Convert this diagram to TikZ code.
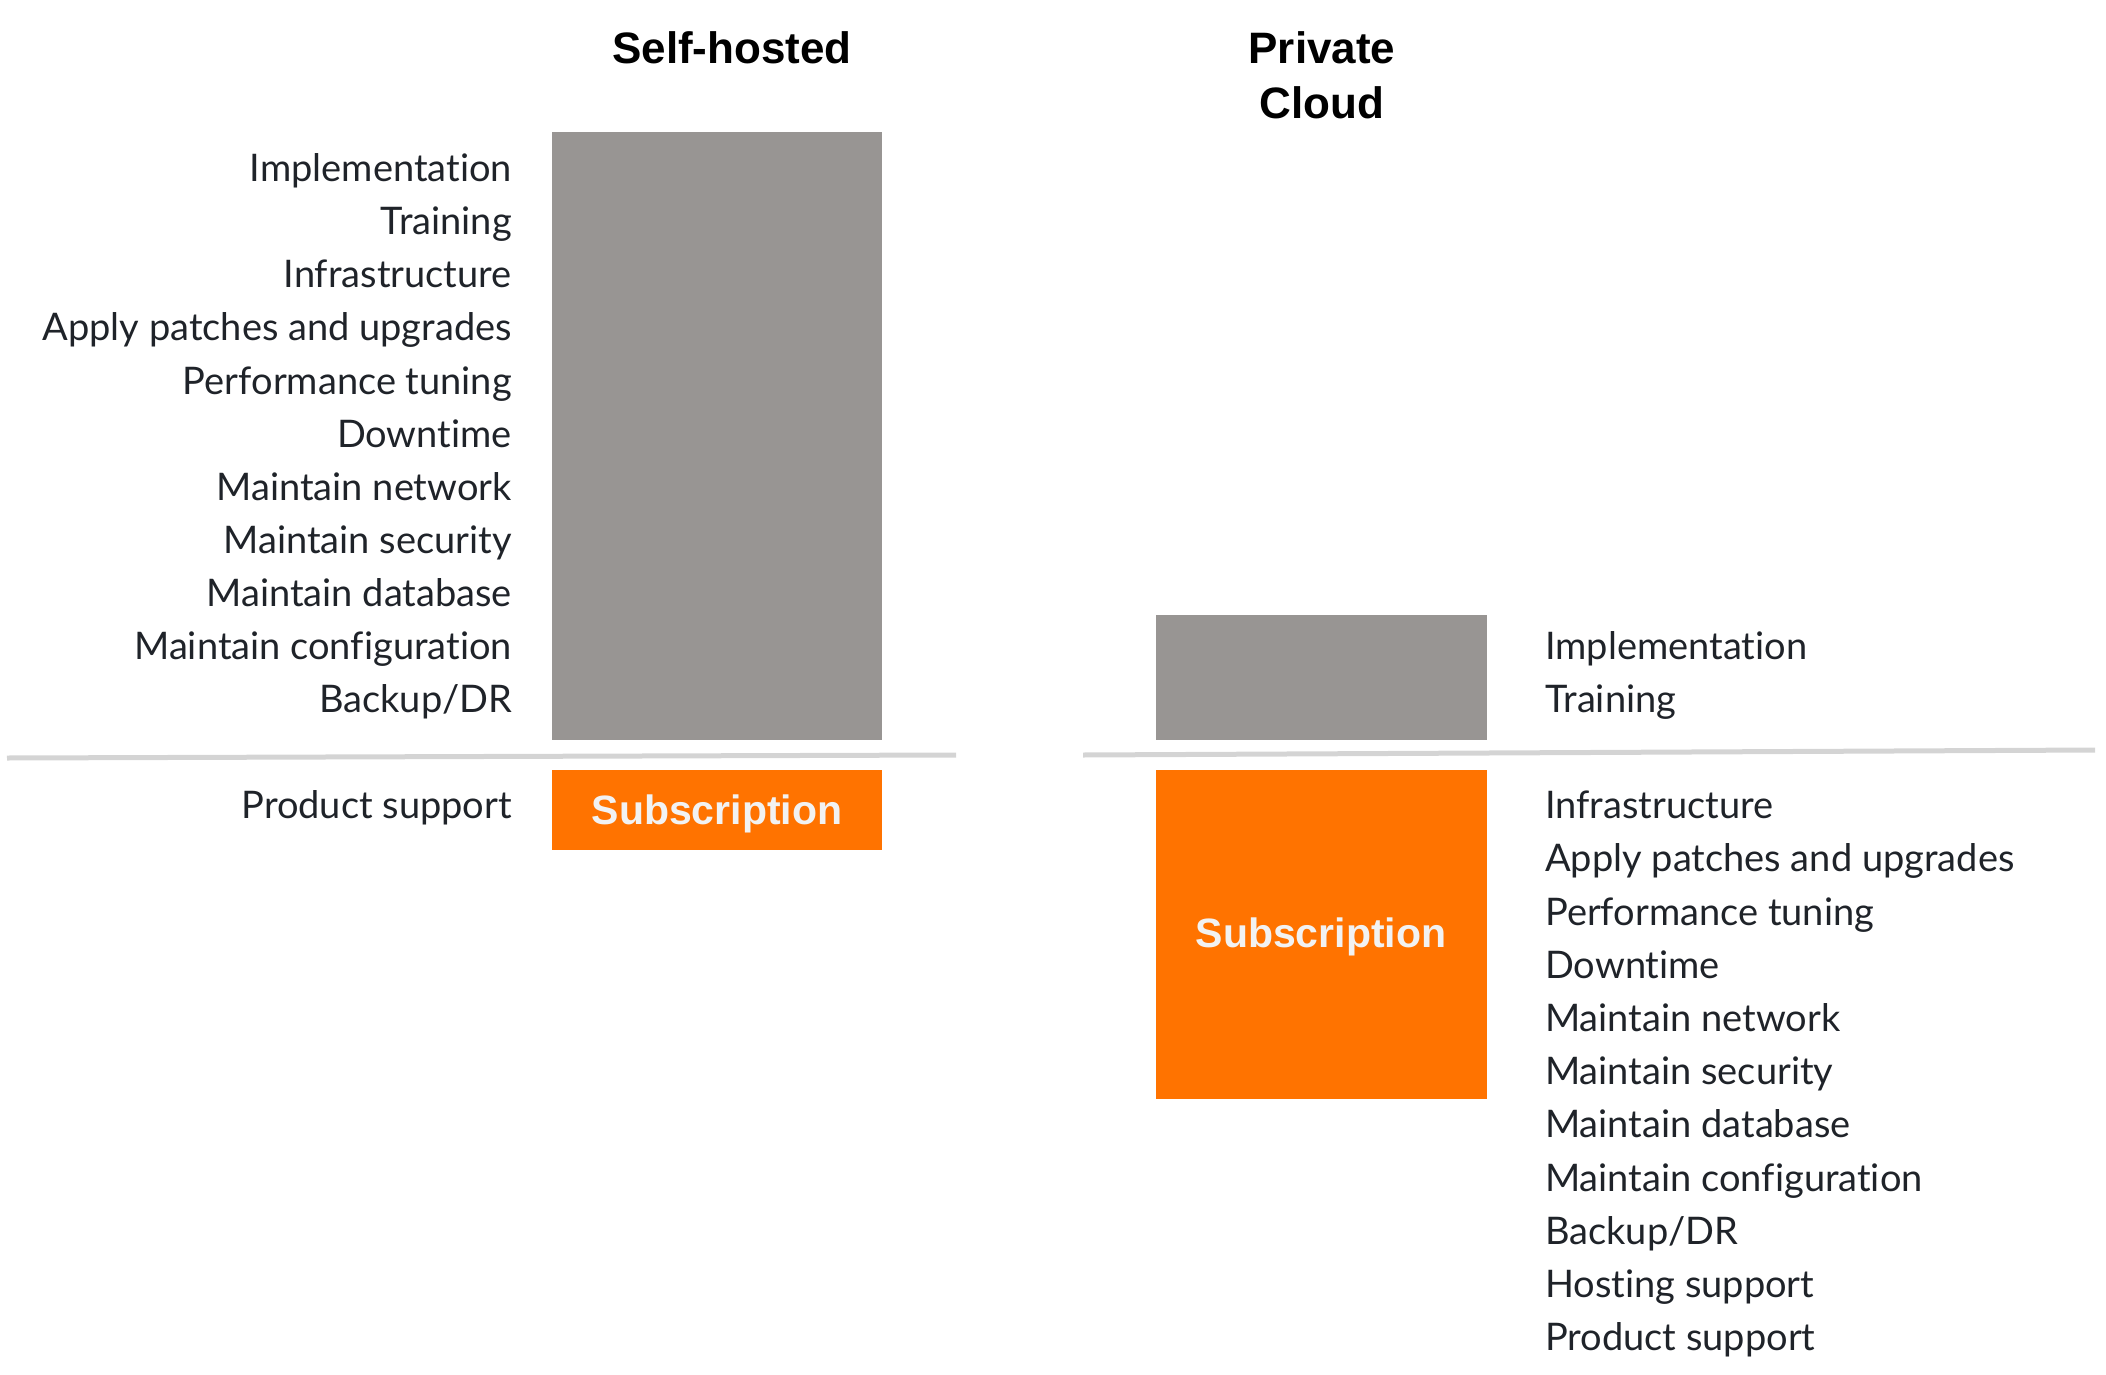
\documentclass[tikz,border=0pt]{standalone}
\usepackage{fontspec}
\setmainfont{Lato}[Ligatures={NoCommon,NoRequired,NoDiscretionary,NoContextual}]
\newfontfamily\boldsans{Liberation Sans}
\definecolor{txt}{HTML}{1F2329}
\definecolor{boxgray}{HTML}{989593}
\definecolor{orng}{HTML}{FF7300}
\definecolor{sepgray}{HTML}{D4D4D4}
\definecolor{subtxt}{HTML}{F2F2F2}
\begin{document}
\begin{tikzpicture}[x=1pt,y=-1pt,
  lbl/.style={inner sep=0pt, text height=0.72em, text depth=0pt, text=txt, font=\fontsize{38}{44}\selectfont},
  lleft/.style={lbl, anchor=east},
  lright/.style={lbl, anchor=west},
  ttl/.style={inner sep=0pt, text height=0.72em, text depth=0pt, text=black, font=\boldsans\bfseries\fontsize{44}{50}\selectfont},
  graybox/.style={fill=boxgray, draw=none},
  orbox/.style={fill=orng, draw=none},
  subs/.style={inner sep=0pt, text=subtxt, font=\boldsans\bfseries\fontsize{41}{48}\selectfont},
  sep/.style={draw=sepgray, line width=5pt}
]
\useasboundingbox (0,0) rectangle (2106,1375);
% titles
\node[ttl] (t1) at (732,60) {Self-hosted};
\node[ttl] (t2a) at (1322,60) {Private};
\node[ttl] (t2b) at (1322,115) {Cloud};
% left boxes
\path[graybox] (552,132) rectangle (882,740);
\path[orbox] (552,770) rectangle (882,850);
\node[subs] (s1) at (717,814) {Subscription};
% left separator
\coordinate (ls1) at (7,758);
\coordinate (ls2) at (956,755);
\draw[sep] (ls1) -- (ls2);
% left labels
\foreach \t [count=\i from 0] in {Implementation,Training,Infrastructure,Apply patches and upgrades,Performance tuning,Downtime,Maintain network,Maintain security,Maintain database,Maintain configuration,Backup/DR}{
  \node[lleft] (l\i) at (512,{178+53.1*\i}) {\t};
}
\node[lleft] (lps) at (512,815) {Product support};
% right boxes
\path[graybox] (1156,615) rectangle (1487,740);
\path[orbox] (1156,770) rectangle (1487,1099);
\node[subs] (s2) at (1321,937) {Subscription};
% right separator
\coordinate (rs1) at (1083,755);
\coordinate (rs2) at (2095,750);
\draw[sep] (rs1) -- (rs2);
% right labels
\node[lright] (r0) at (1545,656) {Implementation};
\node[lright] (r1) at (1545,709) {Training};
\foreach \t [count=\i from 0] in {Infrastructure,Apply patches and upgrades,Performance tuning,Downtime,Maintain network,Maintain security,Maintain database,Maintain configuration,Backup/DR,Hosting support,Product support}{
  \node[lright] (rb\i) at (1545,{815+53.2*\i}) {\t};
}
\end{tikzpicture}
\end{document}
